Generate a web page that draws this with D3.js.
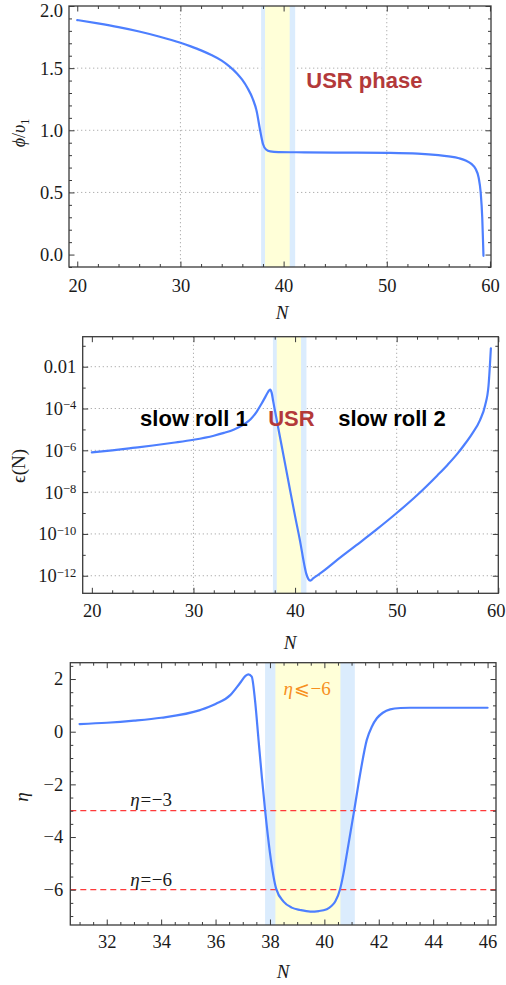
<!DOCTYPE html>
<html><head><meta charset="utf-8">
<script src="https://cdn.jsdelivr.net/npm/d3@7"></script>
<style>body{margin:0;background:#fff} svg{display:block}</style>
</head><body><script>
// ---------------- DATA ----------------
// Panel 1: phi / v1 versus N
const phiN = [20, 22, 24, 26, 28, 30, 31, 32, 33, 34, 34.8, 35.5, 36, 36.5, 37, 37.4, 37.7, 38.0, 38.3, 38.7, 39.5, 42, 45, 50, 53, 55, 56, 57, 57.7, 58.2, 58.6, 58.9, 59.1, 59.25, 59.33, 59.37];
const phiV = [1.887, 1.86, 1.83, 1.795, 1.753, 1.704, 1.675, 1.643, 1.605, 1.56, 1.51, 1.455, 1.405, 1.34, 1.255, 1.15, 1.01, 0.89, 0.845, 0.83, 0.825, 0.823, 0.821, 0.818, 0.812, 0.80, 0.79, 0.775, 0.755, 0.73, 0.69, 0.62, 0.50, 0.30, 0.10, -0.01];
const phiXTicks = [20, 30, 40, 50, 60];
const phiYTicks = [0, 0.5, 1.0, 1.5, 2.0];
const phiYTickLabels = ["0.0", "0.5", "1.0", "1.5", "2.0"];

// Panel 2: epsilon(N)
const epsN = [20, 22, 24, 26, 28, 30, 32, 33, 34, 35, 35.6, 36.2, 36.7, 37.1, 37.35, 37.55, 37.7, 37.85, 38.0, 38.5, 39.0, 39.5, 40.0, 40.5, 40.9, 41.1, 41.3, 41.5, 41.8, 42.5, 44, 46, 48, 50, 52, 54, 55, 56, 56.6, 57.4, 58.2, 58.7, 59.04, 59.27];
const epsV = [7.9e-7, 1.0e-6, 1.3e-6, 1.7e-6, 2.3e-6, 3.2e-6, 5.0e-6, 6.8e-6, 1.0e-5, 1.8e-5, 3.0e-5, 6.8e-5, 1.7e-4, 3.8e-4, 6.3e-4, 8.1e-4, 5.6e-4, 2.2e-4, 8.9e-5, 4.7e-6, 2.5e-7, 1.3e-8, 7.1e-10, 4.3e-11, 3.5e-12, 1.26e-12, 7.1e-13, 5.8e-13, 7.6e-13, 1.32e-12, 5.0e-12, 2.8e-11, 1.6e-10, 1.0e-9, 7.1e-9, 6.3e-8, 2.0e-7, 7.1e-7, 1.7e-6, 6.0e-6, 2.8e-5, 1.4e-4, 1.26e-3, 7.6e-2];
const epsXTicks = [20, 30, 40, 50, 60];
const epsYTicks = [1e-2, 1e-4, 1e-6, 1e-8, 1e-10, 1e-12];
const epsYTickLabels = ["0.01", "10^\u22124", "10^\u22126", "10^\u22128", "10^\u221210", "10^\u221212"];

// Panel 3: eta(N)
const etaN = [31, 32, 33, 34, 35.43, 36.0, 36.54, 36.9, 37.1, 37.21, 37.33, 37.45, 37.58, 37.7, 37.82, 38.0, 38.23, 38.5, 38.8, 39.11, 39.48, 39.8, 40.09, 40.25, 40.4, 40.58, 40.7, 40.83, 41.1, 41.3, 41.56, 41.75, 41.93, 42.15, 42.42, 42.8, 43.15, 44, 45, 46];
const etaV = [0.29, 0.34, 0.42, 0.53, 0.82, 1.05, 1.39, 1.85, 2.12, 2.18, 2.09, 1.2, -0.31, -1.7, -2.97, -4.6, -5.97, -6.45, -6.68, -6.77, -6.83, -6.81, -6.74, -6.63, -6.45, -5.97, -5.4, -4.62, -2.97, -1.7, -0.31, 0.2, 0.51, 0.72, 0.85, 0.9, 0.91, 0.91, 0.91, 0.91];
const etaXTicks = [32, 34, 36, 38, 40, 42, 44, 46];
const etaYTicks = [2, 0, -2, -4, -6];
const etaYTickLabels = ["2", "0", "\u22122", "\u22124", "\u22126"];
const etaRefLines = [-3, -6];

// Phase bands (N ranges)
const blueBand = [37.82, 41.12];
const yellowBand = [38.2, 40.59];

// ---------------- DRAWING ----------------
const W = 506, H = 985;
const svg = d3.select("body").append("svg").attr("width", W).attr("height", H);
const serif = "Liberation Serif, Times New Roman, serif";
const sans = "Liberation Sans, Arial, sans-serif";
const CURVE = "#4d7fff", BANDB = "#dbecfd", BANDY = "#ffffd8", FRAME = "#3a3a3a";
const DARKRED = "#b3393a", ORANGE = "#f7901e";
const TICKFS = 18.5, TITLEFS = 19;
const range = (a, b, s) => d3.range(Math.round(a / s), Math.round(b / s) + 1).map(i => +(i * s).toFixed(6));

function makePanel(o) {
  const g = svg.append("g");
  const x = d3.scaleLinear().domain(o.xDom).range([o.L, o.R]);
  const y = (o.log ? d3.scaleLog() : d3.scaleLinear()).domain(o.yDom).range([o.B, o.T]);
  svg.append("clipPath").attr("id", "clip" + o.id).append("rect")
    .attr("x", o.L).attr("y", o.T).attr("width", o.R - o.L).attr("height", o.B - o.T);
  const gg = g.append("g").attr("stroke", "#b0b0b0").attr("stroke-width", 1).attr("stroke-dasharray", "1.3,2.7");
  (o.gridX || []).forEach(v => gg.append("line").attr("x1", x(v)).attr("x2", x(v)).attr("y1", o.T).attr("y2", o.B));
  (o.gridY || []).forEach(v => gg.append("line").attr("x1", o.L).attr("x2", o.R).attr("y1", y(v)).attr("y2", y(v)));
  g.append("rect").attr("x", x(blueBand[0])).attr("width", x(blueBand[1]) - x(blueBand[0]))
    .attr("y", o.T).attr("height", o.B - o.T).attr("fill", BANDB);
  g.append("rect").attr("x", x(yellowBand[0])).attr("width", x(yellowBand[1]) - x(yellowBand[0]))
    .attr("y", o.T).attr("height", o.B - o.T).attr("fill", BANDY);
  return { g, x, y, o };
}

function drawCurve(p, N, V) {
  p.g.append("path").datum(d3.zip(N, V))
    .attr("clip-path", `url(#clip${p.o.id})`)
    .attr("fill", "none").attr("stroke", CURVE).attr("stroke-width", 2.2)
    .attr("stroke-linejoin", "round").attr("stroke-linecap", "round")
    .attr("d", d3.line().x(d => p.x(d[0])).y(d => p.y(d[1])).curve(d3.curveMonotoneX));
}

function drawAxes(p, a) {
  const o = p.o;
  const mk = (fn, scale, ticks, size, fmt, tx, ty, pad) => {
    const ax = fn(scale).tickValues(ticks).tickSize(size).tickPadding(pad || 0).tickFormat(fmt);
    const ga = p.g.append("g").attr("transform", `translate(${tx},${ty})`).call(ax)
      .attr("font-family", serif).attr("font-size", TICKFS);
    ga.select(".domain").remove();
    ga.selectAll("line").attr("stroke", FRAME).attr("stroke-width", 1);
    ga.selectAll("text").style("font-family", serif).attr("fill", "#1a1a1a");
    return ga;
  };
  const noLab = () => "";
  const gb = mk(d3.axisBottom, p.x, a.xMaj, -5.5, a.xFmt, 0, o.B, a.xPad);
  // keep a label that would spill past the page's right edge inside it
  gb.selectAll(".tick text").filter(d => p.x(d) + 10 > W).attr("text-anchor", "end").attr("x", d => W - 1 - p.x(d));
  mk(d3.axisBottom, p.x, a.xMin, -3, noLab, 0, o.B);
  mk(d3.axisTop, p.x, a.xMaj, -5.5, noLab, 0, o.T);
  mk(d3.axisTop, p.x, a.xMin, -3, noLab, 0, o.T);
  const gl = mk(d3.axisLeft, p.y, a.yMaj, -5.5, a.yFmt, o.L, 0, a.yPad);
  // keep a label sitting on the very top edge inside the page
  gl.selectAll(".tick text").filter(d => p.y(d) - o.T < 1).attr("dy", "0.58em");
  mk(d3.axisLeft, p.y, a.yMin, -3, noLab, o.L, 0);
  mk(d3.axisRight, p.y, a.yMaj, -5.5, noLab, o.R, 0);
  mk(d3.axisRight, p.y, a.yMin, -3, noLab, o.R, 0);
  p.g.append("rect").attr("x", o.L).attr("y", o.T).attr("width", o.R - o.L).attr("height", o.B - o.T)
    .attr("fill", "none").attr("stroke", FRAME).attr("stroke-width", 1.3);
  return gl;
}

function xTitle(p, xc, yb) {
  p.g.append("text").attr("x", xc).attr("y", yb).attr("text-anchor", "middle")
    .style("font-family", serif).attr("font-size", TITLEFS).attr("font-style", "italic").attr("fill", "#1a1a1a").text("N");
}

// ---- Panel 1 ----
const p1 = makePanel({ id: 1, L: 69, R: 491, T: 6, B: 267, xDom: [19.2, 60.1], yDom: [-0.1, 2.0],
  gridX: [30, 40, 50], gridY: [0.5, 1.0, 1.5] });
drawCurve(p1, phiN, phiV);
drawAxes(p1, { xMaj: phiXTicks, xMin: range(20, 60, 2).filter(v => v % 10 !== 0),
  yMaj: phiYTicks, yMin: range(-0.1, 2.0, 0.1).filter(v => Math.abs(v * 2 - Math.round(v * 2)) > 1e-6),
  xFmt: d => d, yFmt: (d, i) => phiYTickLabels[i], xPad: 11.5, yPad: 6 });
xTitle(p1, 282, 319);
{
  const t = p1.g.append("text").attr("transform", "translate(25,133) rotate(-90)").attr("text-anchor", "middle")
    .style("font-family", serif).attr("font-size", 18).attr("fill", "#1a1a1a");
  t.append("tspan").attr("font-style", "italic").text("\u03d5");
  t.append("tspan").text("/");
  t.append("tspan").attr("font-style", "italic").text("\u03c5");
  t.append("tspan").attr("font-size", 12).attr("dy", 3.5).text("1");
}
p1.g.append("text").attr("x", p1.x(42.2)).attr("y", p1.y(1.34))
  .style("font-family", sans).attr("font-weight", "bold").attr("font-size", 22).attr("fill", DARKRED).text("USR phase");

// ---- Panel 2 ----
const p2 = makePanel({ id: 2, L: 82.7, R: 498.3, T: 336.7, B: 593.3, xDom: [19.1, 60], yDom: [Math.pow(10, -12.84), Math.pow(10, -0.565)], log: true,
  gridX: [30, 40, 50], gridY: epsYTicks });
drawCurve(p2, epsN, epsV);
const gl2 = drawAxes(p2, { xMaj: epsXTicks, xMin: range(20, 60, 2).filter(v => v % 10 !== 0),
  yMaj: epsYTicks, yMin: [1e-1, 1e-3, 1e-5, 1e-7, 1e-9, 1e-11],
  xFmt: d => d, yFmt: (d, i) => epsYTickLabels[i], xPad: 10.5, yPad: 6.5 });
gl2.selectAll("text").each(function () {
  const s = d3.select(this), txt = s.text();
  if (txt.includes("^")) {
    const [b, e] = txt.split("^");
    s.text(b);
    s.append("tspan").attr("font-size", 12.5).attr("dy", "-0.45em").text(e);
  }
});
xTitle(p2, 290, 649);
p2.g.append("text").attr("transform", "translate(25,466) rotate(-90)").attr("text-anchor", "middle")
  .style("font-family", serif).attr("font-size", TITLEFS).attr("fill", "#1a1a1a").text("\u03f5(N)");
const labY = Math.pow(10, -4.84);
[["slow roll 1", 24.75, "#000"], ["USR", 37.35, DARKRED], ["slow roll 2", 44.24, "#000"]].forEach(([t, xv, c]) =>
  p2.g.append("text").attr("x", p2.x(xv)).attr("y", p2.y(labY)).style("font-family", sans).attr("font-weight", "bold")
    .attr("font-size", 22).attr("fill", c).text(t));

// ---- Panel 3 ----
const p3 = makePanel({ id: 3, L: 70.3, R: 496, T: 662.7, B: 925, xDom: [30.66, 46.31], yDom: [-7.34, 2.62] });
etaRefLines.forEach(v => p3.g.append("line").attr("x1", p3.o.L).attr("x2", p3.o.R).attr("y1", p3.y(v)).attr("y2", p3.y(v))
  .attr("stroke", "#ff3a3a").attr("stroke-width", 1.3).attr("stroke-dasharray", "6,4"));
drawCurve(p3, etaN, etaV);
drawAxes(p3, { xMaj: etaXTicks, xMin: range(31, 46, 0.5).filter(v => v % 2 !== 0),
  yMaj: etaYTicks, yMin: range(-7, 2.5, 0.5).filter(v => v % 2 !== 0),
  xFmt: d => d, yFmt: (d, i) => etaYTickLabels[i], xPad: 10, yPad: 7 });
xTitle(p3, 283, 978);
p3.g.append("text").attr("transform", "translate(28,797) rotate(-90)").attr("text-anchor", "middle")
  .style("font-family", serif).attr("font-size", TITLEFS).attr("font-style", "italic").attr("fill", "#1a1a1a").text("\u03b7");
function etaLabel(xv, yv, op, val, color) {
  const t = p3.g.append("text").attr("x", p3.x(xv)).attr("y", p3.y(yv)).style("font-family", serif)
    .attr("font-size", 19).attr("fill", color);
  t.append("tspan").attr("font-style", "italic").text("\u03b7");
  t.append("tspan").attr("dx", 1).text(op);
  t.append("tspan").attr("dx", 0.5).text(val);
}
etaLabel(38.5, 1.39, "\u2a7d", "\u22126", ORANGE);
etaLabel(32.86, -2.81, "=", "\u22123", "#1a1a1a");
etaLabel(32.86, -5.86, "=", "\u22126", "#1a1a1a");
</script></body></html>
